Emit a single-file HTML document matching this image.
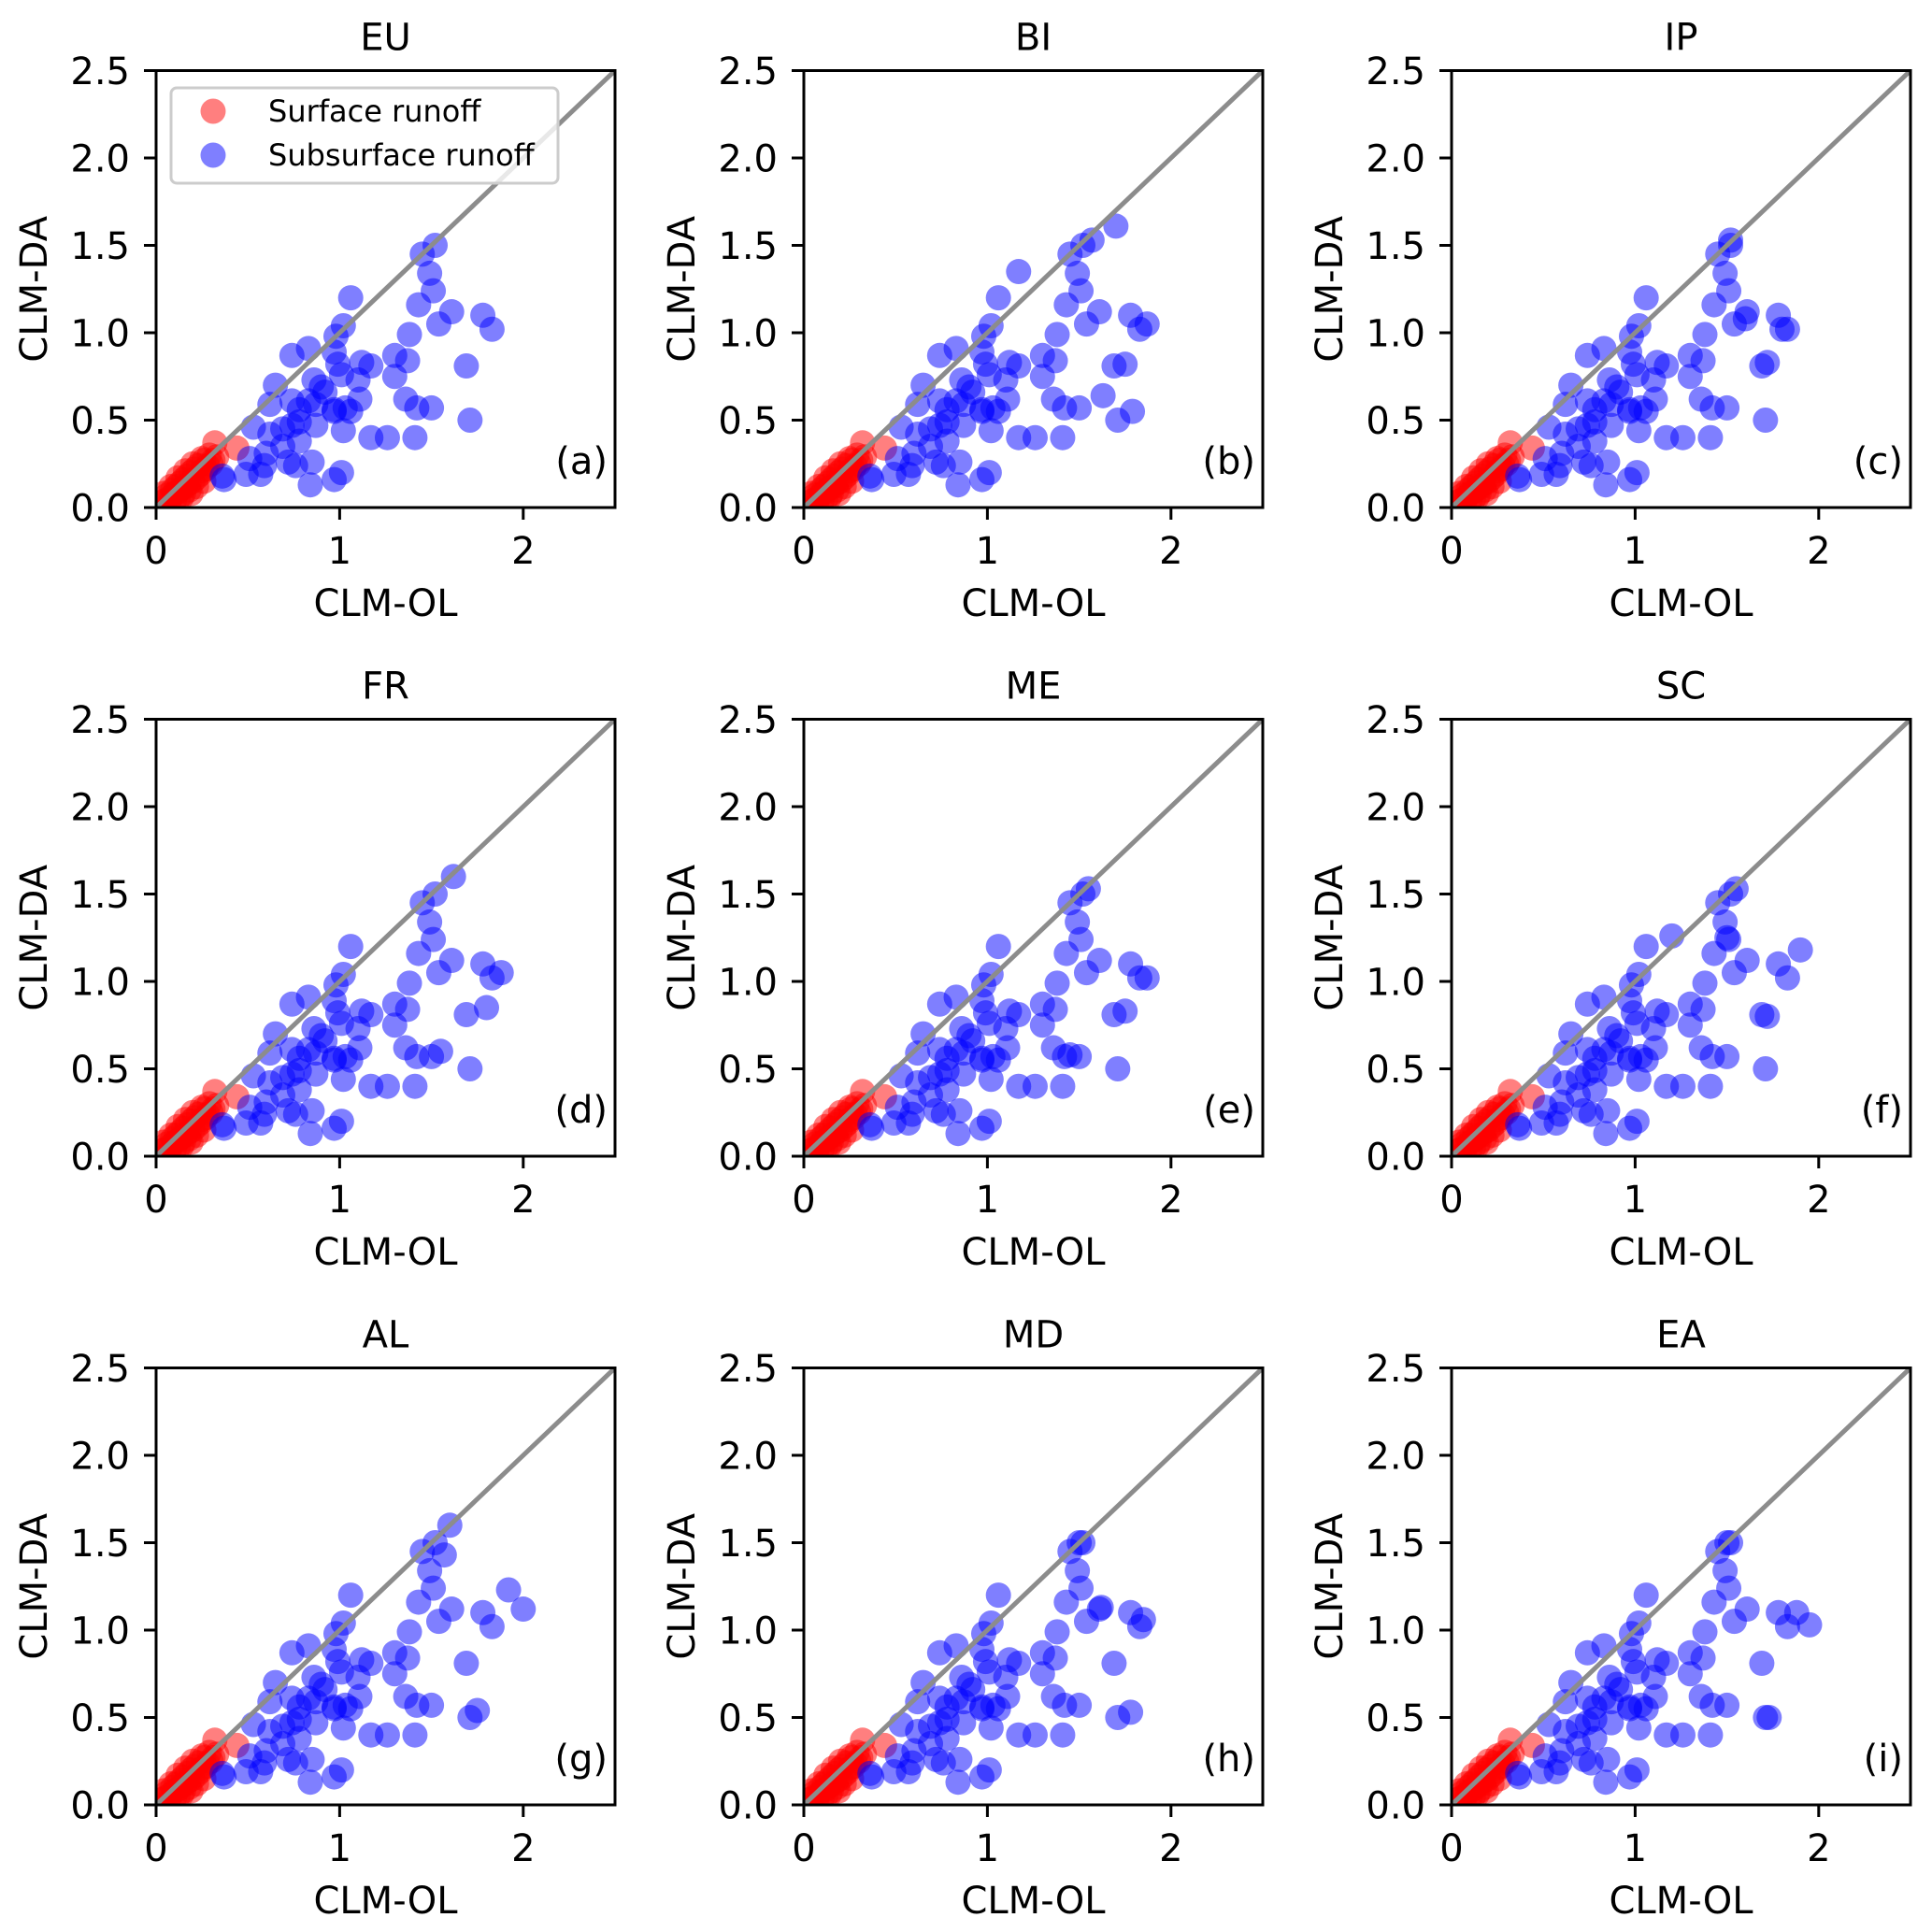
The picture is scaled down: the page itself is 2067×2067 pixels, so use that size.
<!DOCTYPE html>
<html><head><meta charset="utf-8"><style>
html,body{margin:0;padding:0;background:#fff;}
svg{display:block;font-family:"DejaVu Sans","Liberation Sans",sans-serif;}
</style></head><body>
<svg id="fig" width="2067" height="2067" viewBox="0 0 2067 2067" xmlns="http://www.w3.org/2000/svg"></svg>
<script>
const panelNames = ["EU","BI","IP","FR","ME","SC","AL","MD","EA"];
const panelTags = ["(a)","(b)","(c)","(d)","(e)","(f)","(g)","(h)","(i)"];
const xTicks = [0,1,2];
const xTickLabels = ["0","1","2"];
const yTicks = [0,0.5,1,1.5,2,2.5];
const yTickLabels = ["0.0","0.5","1.0","1.5","2.0","2.5"];
const surfaceX = [0.03,0.05,0.06,0.08,0.09,0.10,0.11,0.12,0.13,0.14,0.15,0.16,0.17,0.18,0.19,0.20,0.21,0.22,0.23,0.24,0.25,0.26,0.27,0.28,0.29,0.30,0.31,0.32,0.33,0.44,0.12,0.15,0.18,0.22,0.08,0.12,0.16,0.20,0.25,0.07,0.10,0.04,0.14,0.19,0.26];
const surfaceY = [0.03,0.04,0.07,0.06,0.10,0.08,0.12,0.09,0.14,0.11,0.16,0.12,0.18,0.14,0.20,0.15,0.22,0.17,0.24,0.19,0.21,0.27,0.22,0.24,0.30,0.25,0.27,0.37,0.29,0.34,0.05,0.08,0.10,0.12,0.12,0.17,0.21,0.25,0.28,0.02,0.04,0.08,0.06,0.08,0.15];
const subX = [1.52,1.45,1.49,1.51,1.43,1.06,1.61,1.78,1.83,1.54,1.38,1.02,0.98,0.97,0.83,0.74,0.99,1.01,1.12,1.17,1.30,1.37,1.30,1.69,1.10,1.11,1.36,1.42,1.50,1.71,1.17,1.26,1.41,1.06,0.97,1.02,0.86,0.90,0.83,0.78,0.87,0.74,0.65,0.62,0.74,0.53,0.62,0.69,0.78,0.60,0.51,0.59,0.72,0.76,0.85,0.49,0.57,0.84,0.97,1.01,0.37,0.36,0.87,0.92,0.97,1.03,0.78,0.69];
const subY = [1.50,1.45,1.34,1.24,1.16,1.20,1.12,1.10,1.02,1.05,0.99,1.04,0.98,0.89,0.91,0.87,0.82,0.76,0.83,0.81,0.87,0.84,0.75,0.81,0.73,0.62,0.62,0.57,0.57,0.50,0.40,0.40,0.40,0.55,0.55,0.44,0.73,0.69,0.61,0.56,0.47,0.47,0.70,0.59,0.61,0.46,0.42,0.45,0.38,0.31,0.28,0.24,0.26,0.24,0.26,0.19,0.19,0.13,0.16,0.20,0.16,0.18,0.59,0.66,0.56,0.57,0.49,0.35];
// per-panel extra subsurface points (distinctive outliers)
const extraX = [[],[1.70,1.57,1.87,1.17,1.63,1.79,1.75],[1.52,1.80,1.72,1.60],[1.62,1.88,1.80,1.55],[1.55,1.87,1.75,1.45],[1.55,1.90,1.72,1.50,1.20],[1.60,2.00,1.92,1.75,1.57],[1.50,1.85,1.78,1.62],[1.50,1.95,1.88,1.73]];
const extraY = [[],[1.61,1.53,1.05,1.35,0.64,0.55,0.82],[1.53,1.02,0.83,1.08],[1.60,1.05,0.85,0.60],[1.53,1.02,0.83,0.58],[1.53,1.18,0.80,1.25,1.26],[1.60,1.12,1.23,0.54,1.43],[1.50,1.06,0.53,1.13],[1.50,1.03,1.10,0.50]];

const NS="http://www.w3.org/2000/svg";
const svg=document.getElementById('fig');
const colX=[167,860,1553], rowY=[75.5,769.5,1463.5];
const W=491, H=467.5, VMAX=2.5;
function mk(tag,attrs,parent){const e=document.createElementNS(NS,tag);for(const k in attrs)e.setAttribute(k,attrs[k]);parent.appendChild(e);return e;}

for(let p=0;p<9;p++){
  const L=colX[p%3], T=rowY[Math.floor(p/3)], B=T+H, R=L+W;
  const sx=v=>L+v/VMAX*W, sy=v=>B-v/VMAX*H;
  const g=mk('g',{},svg);
  
  
  const cid='clip'+p;
  const cp=mk('clipPath',{id:cid},g); mk('rect',{x:L,y:T,width:W,height:H},cp);
  const pts=mk('g',{'clip-path':'url(#'+cid+')'},g);
  for(let i=0;i<surfaceX.length;i++){
    const c=mk('circle',{cx:sx(surfaceX[i]),cy:sy(surfaceY[i]),r:13.5,fill:'#ff0000','fill-opacity':0.5},pts);
    
    
  }
  const bx=subX.concat(extraX[p]), by=subY.concat(extraY[p]);
  for(let i=0;i<bx.length;i++){
    const c=mk('circle',{cx:sx(bx[i]),cy:sy(by[i]),r:13.5,fill:'#0000ff','fill-opacity':0.5},pts);
    
    
  }
  const dl=mk('line',{x1:sx(0),y1:sy(0),x2:sx(2.5),y2:sy(2.5),stroke:'#8c8c8c','stroke-width':5},pts);
  
  
  const fr=mk('rect',{x:L,y:T,width:W,height:H,fill:'none',stroke:'#000','stroke-width':3},g);
  
  
  xTicks.forEach((v,i)=>{
    mk('line',{x1:sx(v),y1:B,x2:sx(v),y2:B+13,stroke:'#000','stroke-width':3},g);
    const t=mk('text',{x:sx(v),y:B+60,'text-anchor':'middle','font-size':40},g);
    t.textContent=xTickLabels[i];
    
    
  });
  yTicks.forEach((v,i)=>{
    mk('line',{x1:L-13,y1:sy(v),x2:L,y2:sy(v),stroke:'#000','stroke-width':3},g);
    const t=mk('text',{x:L-28,y:sy(v)+14.5,'text-anchor':'end','font-size':40},g);
    t.textContent=yTickLabels[i];
    
    
  });
  const ti=mk('text',{x:(L+R)/2,y:T-22,'text-anchor':'middle','font-size':40},g);
  ti.textContent=panelNames[p];
  
  
  const xl=mk('text',{x:(L+R)/2,y:B+116,'text-anchor':'middle','font-size':40},g);
  xl.textContent='CLM-OL';
  
  
  const yl=mk('text',{x:0,y:0,'text-anchor':'middle','font-size':40,transform:'translate('+(L-117)+','+(T+H/2)+') rotate(-90)'},g);
  yl.textContent='CLM-DA';
  
  
  const tg=mk('text',{x:R-8,y:B-36,'text-anchor':'end','font-size':40},g);
  tg.textContent=panelTags[p];
  
  
  if(p===0){
    const lg=mk('g',{},g);
    
    
    mk('rect',{x:183,y:94,width:414,height:102,rx:6,fill:'#fff','fill-opacity':0.8,stroke:'#cccccc','stroke-width':3},lg);
    mk('circle',{cx:228,cy:119,r:13.5,fill:'#ff0000','fill-opacity':0.5},lg);
    mk('circle',{cx:228,cy:166,r:13.5,fill:'#0000ff','fill-opacity':0.5},lg);
    const t1=mk('text',{x:287,y:130,'font-size':32},lg); t1.textContent='Surface runoff';
    
    
    const t2=mk('text',{x:287,y:177,'font-size':32},lg); t2.textContent='Subsurface runoff';
    
    
  }
}
</script>
</body></html>
